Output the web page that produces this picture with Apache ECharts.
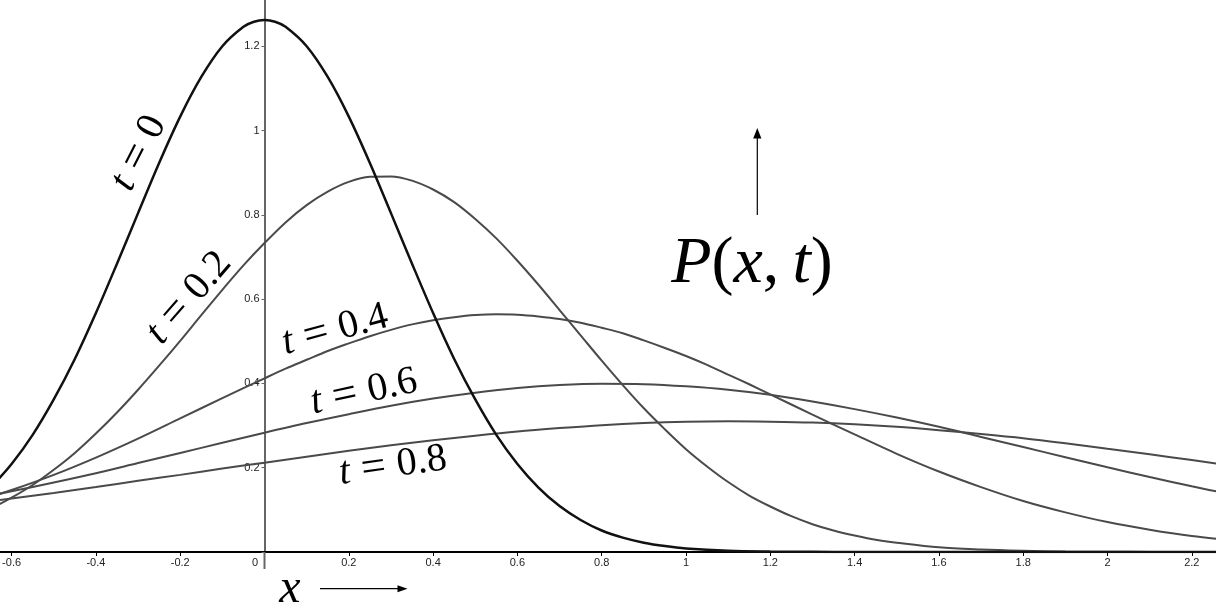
<!DOCTYPE html>
<html><head><meta charset="utf-8">
<script src="https://cdn.jsdelivr.net/npm/echarts@6/dist/echarts.min.js"></script>
<style>html,body{margin:0;padding:0;background:#fff}#c{width:1216px;height:604px}</style>
</head><body><div id="c"></div>
<script>
// t = 0 curve
const xs0 = [-0.65,-0.6,-0.55,-0.5,-0.45,-0.4,-0.35,-0.3,-0.25,-0.2,-0.15,-0.1,-0.05,-0.025,0,0.025,0.05,0.1,0.15,0.2,0.25,0.3,0.35,0.4,0.45,0.5,0.55,0.6,0.65,0.7,0.75,0.8,0.85,0.9,0.95,1.0,1.1,1.2,1.3,1.4,1.6,1.8,2.0,2.2,2.4];
const p0  = [0.153,0.209,0.278,0.362,0.458,0.567,0.684,0.804,0.923,1.033,1.127,1.200,1.246,1.258,1.262,1.258,1.246,1.200,1.127,1.033,0.923,0.804,0.684,0.567,0.458,0.362,0.278,0.209,0.153,0.109,0.076,0.051,0.034,0.022,0.014,0.0085,0.003,0.001,0.0003,0,0,0,0,0,0];
// t = 0.2 curve
const xs2 = [-0.7,-0.65,-0.6,-0.55,-0.5,-0.45,-0.4,-0.35,-0.3,-0.25,-0.2,-0.15,-0.1,-0.05,0,0.05,0.1,0.15,0.2,0.25,0.3,0.35,0.4,0.45,0.5,0.55,0.6,0.65,0.7,0.75,0.8,0.85,0.9,0.95,1.0,1.05,1.1,1.15,1.2,1.25,1.3,1.35,1.4,1.45,1.5,1.6,1.7,1.8,1.9,2.0,2.1,2.2,2.3];
const p2  = [0.081,0.103,0.129,0.159,0.195,0.235,0.281,0.331,0.385,0.442,0.501,0.562,0.622,0.680,0.733,0.782,0.823,0.855,0.878,0.890,0.891,0.881,0.860,0.830,0.790,0.744,0.691,0.634,0.574,0.514,0.454,0.396,0.341,0.291,0.244,0.203,0.166,0.134,0.108,0.085,0.066,0.051,0.039,0.029,0.022,0.011,0.006,0.003,0.001,0.0005,0.0002,0.0001,0];
// t = 0.4 curve
const xs4 = [-0.7,-0.6,-0.5,-0.4,-0.3,-0.2,-0.1,0,0.05,0.1,0.15,0.2,0.25,0.3,0.35,0.4,0.45,0.5,0.55,0.6,0.65,0.7,0.75,0.8,0.85,0.9,0.95,1.0,1.05,1.1,1.15,1.2,1.3,1.4,1.5,1.6,1.7,1.8,1.9,2.0,2.1,2.2,2.3];
const p4  = [0.115,0.147,0.183,0.224,0.269,0.317,0.365,0.412,0.435,0.456,0.477,0.495,0.512,0.527,0.540,0.550,0.557,0.562,0.564,0.563,0.559,0.553,0.544,0.532,0.519,0.502,0.484,0.465,0.444,0.421,0.398,0.374,0.326,0.279,0.233,0.191,0.154,0.121,0.094,0.071,0.053,0.038,0.027];
// t = 0.6 and t = 0.8 curves
const xs = [-0.7,-0.6,-0.5,-0.4,-0.3,-0.2,-0.1,0,0.1,0.2,0.3,0.4,0.5,0.6,0.7,0.8,0.9,1.0,1.1,1.2,1.3,1.4,1.5,1.6,1.7,1.8,1.9,2.0,2.1,2.2,2.3];
const p6 = [0.124,0.144,0.165,0.187,0.211,0.235,0.259,0.283,0.306,0.327,0.347,0.364,0.378,0.389,0.396,0.399,0.398,0.393,0.385,0.373,0.357,0.339,0.319,0.297,0.273,0.249,0.225,0.201,0.178,0.156,0.135];
const p8 = [0.114,0.127,0.140,0.154,0.169,0.183,0.198,0.212,0.226,0.240,0.253,0.265,0.276,0.286,0.294,0.301,0.306,0.309,0.310,0.309,0.307,0.303,0.297,0.289,0.280,0.270,0.258,0.245,0.232,0.218,0.204];
const seriesNames = ['t = 0','t = 0.2','t = 0.4','t = 0.6','t = 0.8'];
const xTickLabels = ['-0.6','-0.4','-0.2','0.2','0.4','0.6','0.8','1','1.2','1.4','1.6','1.8','2','2.2'];
const yTickLabels = ['0.2','0.4','0.6','0.8','1','1.2'];

function pairs(x, y){ return x.map((v,i)=>[v, y[i]]); }
const serif = '"Liberation Serif", "Times New Roman", serif';
const sans = '"Liberation Sans", Arial, sans-serif';
const chart = echarts.init(document.getElementById('c'), null, {renderer:'canvas'});

const GRID_LEFT = -72.7, Y_AXIS_PX = 264.5;
function fmt(v){ return String(Math.round(v*10)/10); }
function curve(name, data, color, width, z){
  return {name, type:'line', data, showSymbol:false, smooth:0.33, z,
    lineStyle:{color, width}, itemStyle:{color}, silent:true};
}
function tLabel(x, y, rot, num, size){
  return {type:'text', x, y, rotation: rot*Math.PI/180, z:100,
    style:{text:'{i|t}{e|=}{n|' + num + '}', fontFamily:serif, fontSize:size, fill:'#000', align:'center', verticalAlign:'middle',
      rich:{
        i:{fontFamily:serif, fontStyle:'italic', fontSize:size, fill:'#000'},
        e:{fontFamily:serif, fontSize:size*1.1, fill:'#000', padding:[0, size*0.28, 0, size*0.28]},
        n:{fontFamily:serif, fontSize:size, fill:'#000'}
      }}};
}

const option = {
  animation:false,
  backgroundColor:'#fff',
  grid:{left:GRID_LEFT, right:-60.1, top:-38.1, bottom:52, containLabel:false, outerBoundsMode:'none'},
  xAxis:{type:'value', min:-0.8, max:2.4, interval:0.2,
    axisLine:{onZero:true, lineStyle:{color:'#000', width:2}},
    axisTick:{show:true, length:4, lineStyle:{color:'#000', width:1}},
    axisLabel:{margin:5, fontSize:11, fontFamily:sans, color:'#222',
      formatter:v=>xTickLabels.includes(fmt(v)) ? fmt(v) : ''},
    splitLine:{show:false}},
  yAxis:{type:'value', min:0, max:1.4, interval:0.2, position:'left', offset:-(Y_AXIS_PX - GRID_LEFT),
    axisLine:{onZero:false, lineStyle:{color:'#666', width:2}},
    axisTick:{show:true, length:3, lineStyle:{color:'#666', width:1}},
    axisLabel:{margin:5, fontSize:11, fontFamily:sans, color:'#222',
      formatter:v=>yTickLabels.includes(fmt(v)) ? fmt(v) : ''},
    splitLine:{show:false}},
  series:[
    curve(seriesNames[1], pairs(xs2,p2), '#4a4a4a', 2, 2),
    curve(seriesNames[2], pairs(xs4,p4), '#4a4a4a', 2, 2),
    curve(seriesNames[3], pairs(xs,p6), '#4a4a4a', 2, 2),
    curve(seriesNames[4], pairs(xs,p8), '#4a4a4a', 2, 2),
    curve(seriesNames[0], pairs(xs0,p0), '#111', 2.5, 3)
  ],
  graphic:[
    {type:'line', shape:{x1:264.5, y1:552, x2:264.5, y2:569}, style:{stroke:'#666', lineWidth:2}, z:50},
    {type:'text', x:258, y:563, style:{text:'0', fontSize:11, fontFamily:sans, fill:'#222', align:'right', verticalAlign:'middle'}, z:50},
    tLabel(139, 153, 63, '0', 40),
    tLabel(189, 298, 49, '0.2', 40),
    tLabel(335, 330, 15, '0.4', 40),
    tLabel(364, 392, 12, '0.6', 40),
    tLabel(393, 466, 8, '0.8', 40),
    {type:'text', x:752, y:265, z:100,
      style:{text:'{i|P}({i|x},{s|\u2009}{i|t})', fontFamily:serif, fontSize:66, fill:'#000', align:'center', verticalAlign:'middle',
        rich:{i:{fontFamily:serif, fontStyle:'italic', fontSize:66, fill:'#000'}, s:{fontFamily:serif, fontSize:66, fill:'#000'}}}},
    {type:'line', shape:{x1:757.3, y1:215, x2:757.3, y2:137}, style:{stroke:'#000', lineWidth:1.2}, z:100},
    {type:'polygon', shape:{points:[[757.3,128],[753.2,138.5],[761.4,138.5]]}, style:{fill:'#000'}, z:100},
    {type:'text', x:290, y:589, z:100,
      style:{text:'{i|x}', fontFamily:serif, fontSize:48, fill:'#000', align:'center', verticalAlign:'middle',
        rich:{i:{fontFamily:serif, fontStyle:'italic', fontSize:48, fill:'#000'}}}},
    {type:'line', shape:{x1:320, y1:588.7, x2:399, y2:588.7}, style:{stroke:'#000', lineWidth:1.2}, z:100},
    {type:'polygon', shape:{points:[[407.5,588.7],[397.5,585.2],[397.5,592.2]]}, style:{fill:'#000'}, z:100}
  ]
};
chart.setOption(option);
</script></body></html>
